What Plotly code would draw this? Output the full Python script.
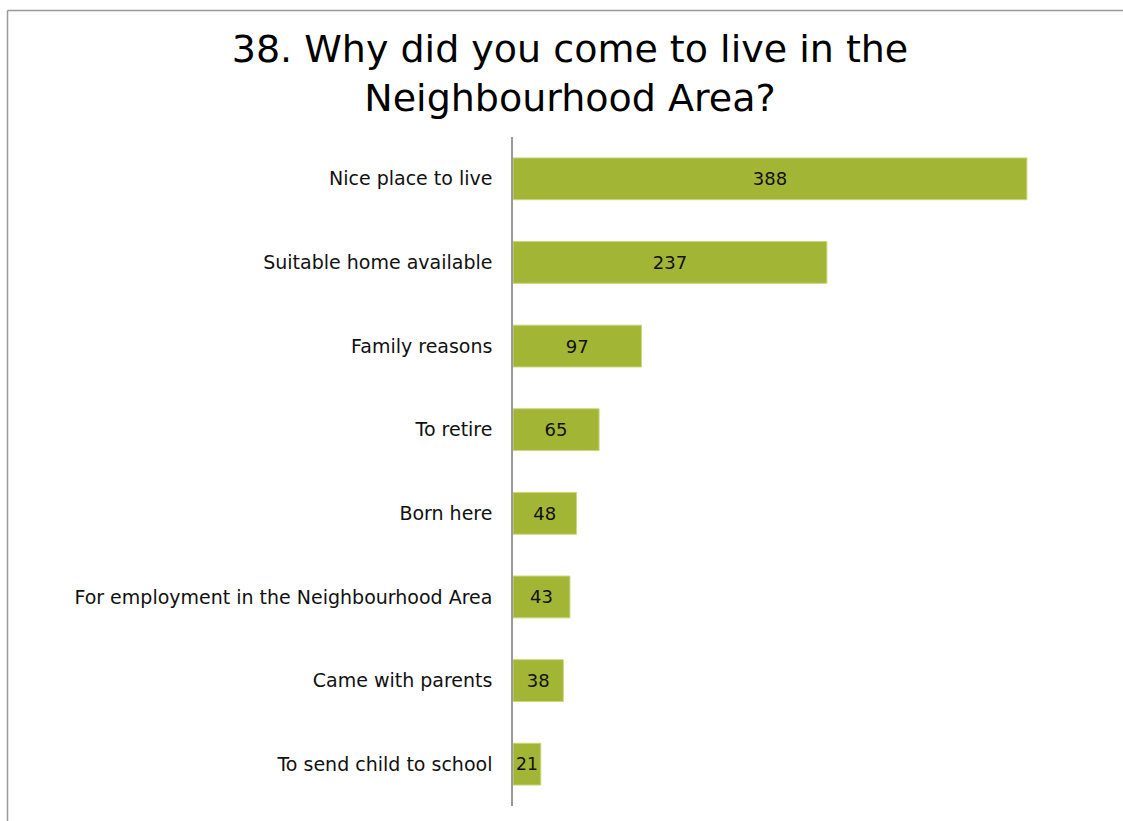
import plotly.graph_objects as go

# Survey responses, top to bottom
reasons = [
    "Nice place to live",
    "Suitable home available",
    "Family reasons",
    "To retire",
    "Born here",
    "For employment in the Neighbourhood Area",
    "Came with parents",
    "To send child to school",
]
counts = [388, 237, 97, 65, 48, 43, 38, 21]

title_text = "38. Why did you come to live in the<br>Neighbourhood Area?"

W, H = 1123, 821
M_L, M_R, M_T, M_B = 513, 14, 137, 15
FONT = "DejaVu Sans, Verdana, sans-serif"

fig = go.Figure(
    go.Bar(
        x=counts,
        y=reasons,
        orientation="h",
        width=0.5,
        marker=dict(color="#A2B534", line=dict(color="#C9D77E", width=1)),
        text=[str(c) for c in counts],
        textposition="inside",
        insidetextanchor="middle",
        textangle=0,
        textfont=dict(family=FONT, size=18, color="#111111"),
        hoverinfo="x+y",
    )
)

# Frame lines along top and left of the chart area
pw = W - M_L - M_R
ph = H - M_T - M_B
x_left = (7.5 - M_L) / pw
y_top = 1 + (M_T - 10.5) / ph
fig.add_shape(type="line", xref="paper", yref="paper",
              x0=x_left, x1=(W + 5 - M_L) / pw, y0=y_top, y1=y_top,
              line=dict(color="#999999", width=1.5))
fig.add_shape(type="line", xref="paper", yref="paper",
              x0=x_left, x1=x_left, y0=y_top, y1=-0.2,
              line=dict(color="#999999", width=1.5))

fig.update_layout(
    width=W,
    height=H,
    margin=dict(l=M_L, r=M_R, t=M_T, b=M_B),
    paper_bgcolor="white",
    plot_bgcolor="white",
    showlegend=False,
    title=dict(
        text=title_text,
        x=570 / W, xref="container", xanchor="center",
        y=0.925, yref="container", yanchor="top",
        font=dict(family=FONT, size=38, color="#000000"),
    ),
    xaxis=dict(
        range=[0, 450],
        visible=False,
        fixedrange=True,
    ),
    yaxis=dict(
        categoryorder="array",
        categoryarray=reasons[::-1],
        showline=True,
        linecolor="#999999",
        linewidth=1.5,
        ticks="",
        ticklabelstandoff=15,
        tickfont=dict(family=FONT, size=19, color="#111111"),
        showgrid=False,
        fixedrange=True,
    ),
)

fig.write_html("out.html")
